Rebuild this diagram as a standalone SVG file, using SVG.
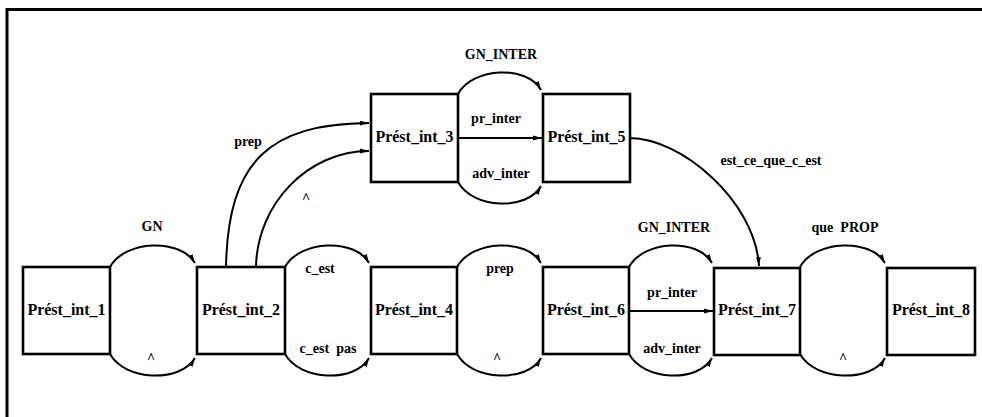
<svg xmlns="http://www.w3.org/2000/svg" width="982" height="417" viewBox="0 0 982 417">
<style>
.frame{fill:none;stroke:#000;stroke-width:3}
.box{fill:#fff;stroke:#000;stroke-width:2.6}
.edge{fill:none;stroke:#000;stroke-width:2;marker-end:url(#arr)}
.nl{font-family:"Liberation Serif",serif;font-size:16px;text-anchor:middle;fill:#000;font-weight:bold}
.el{font-family:"Liberation Serif",serif;font-size:14px;text-anchor:middle;fill:#000;font-weight:bold;white-space:pre}
</style>
<defs>
<marker id="arr" markerUnits="userSpaceOnUse" markerWidth="10" markerHeight="6" refX="9" refY="3" orient="auto">
<path d="M0,0.6 L9,3 L0,5.4 z" fill="#000"/>
</marker>
</defs>
<rect width="982" height="417" fill="#fff"/>
<path class="frame" d="M7,417 V9.5 H982"/>

<g id="connectors">
<path class="edge" d="M110,267 C125,240 180,238 195,263"/>
<path class="edge" d="M110,354 C125,381 180,383 195,358"/>
<path class="edge" d="M285,267 C300,240 355,238 369,263"/>
<path class="edge" d="M285,354 C300,381 355,383 369,358"/>
<path class="edge" d="M457,267 C472,240 527,238 541,263"/>
<path class="edge" d="M457,354 C472,381 527,383 541,358"/>
<path class="edge" d="M629,267 C644,240 698,238 712,263"/>
<path class="edge" d="M629,354 C644,381 698,383 712,358"/>
<path class="edge" d="M629,311 H713"/>
<path class="edge" d="M800,267 C815,240 871,238 885,263"/>
<path class="edge" d="M800,354 C815,381 871,383 885,358"/>
<path class="edge" d="M458,94 C473,67 527,65 541,90"/>
<path class="edge" d="M458,182 C473,209 527,211 541,186"/>
<path class="edge" d="M458,138 H542"/>
<path class="edge" d="M226,267 C228,160 270,124 369,123"/>
<path class="edge" d="M256,267 C257,204 308,151 369,151"/>
<path class="edge" d="M630,138 C680,138 755,200 759,266"/>
</g>

<g id="edge-labels">
<text class="el" x="152" y="231">GN</text>
<text class="el" x="151" y="363">^</text>
<text class="el" x="320" y="273">c_est</text>
<text class="el" x="328" y="353">c_est  pas</text>
<text class="el" x="500" y="273">prep</text>
<text class="el" x="497" y="363">^</text>
<text class="el" x="674" y="232">GN_INTER</text>
<text class="el" x="672" y="297">pr_inter</text>
<text class="el" x="672" y="353">adv_inter</text>
<text class="el" x="845" y="232">que  PROP</text>
<text class="el" x="843" y="363">^</text>
<text class="el" x="501" y="59">GN_INTER</text>
<text class="el" x="496" y="123">pr_inter</text>
<text class="el" x="501" y="178">adv_inter</text>
<text class="el" x="248" y="146">prep</text>
<text class="el" x="306" y="203">^</text>
<text class="el" x="771" y="165">est_ce_que_c_est</text>
</g>

<g id="n1"><rect class="box" x="23" y="267" width="87" height="87"/><text class="nl" x="66.5" y="315">Prést_int_1</text></g>
<g id="n2"><rect class="box" x="197" y="267" width="88" height="87"/><text class="nl" x="241" y="315">Prést_int_2</text></g>
<g id="n3"><rect class="box" x="371" y="94" width="87" height="88"/><text class="nl" x="414.5" y="142">Prést_int_3</text></g>
<g id="n4"><rect class="box" x="371" y="267" width="86" height="87"/><text class="nl" x="414" y="315">Prést_int_4</text></g>
<g id="n5"><rect class="box" x="543" y="94" width="87" height="88"/><text class="nl" x="586.5" y="142">Prést_int_5</text></g>
<g id="n6"><rect class="box" x="543" y="267" width="86" height="87"/><text class="nl" x="586" y="315">Prést_int_6</text></g>
<g id="n7"><rect class="box" x="714" y="268" width="86" height="87"/><text class="nl" x="757" y="315">Prést_int_7</text></g>
<g id="n8"><rect class="box" x="887" y="268" width="88" height="87"/><text class="nl" x="931" y="315">Prést_int_8</text></g>
</svg>
